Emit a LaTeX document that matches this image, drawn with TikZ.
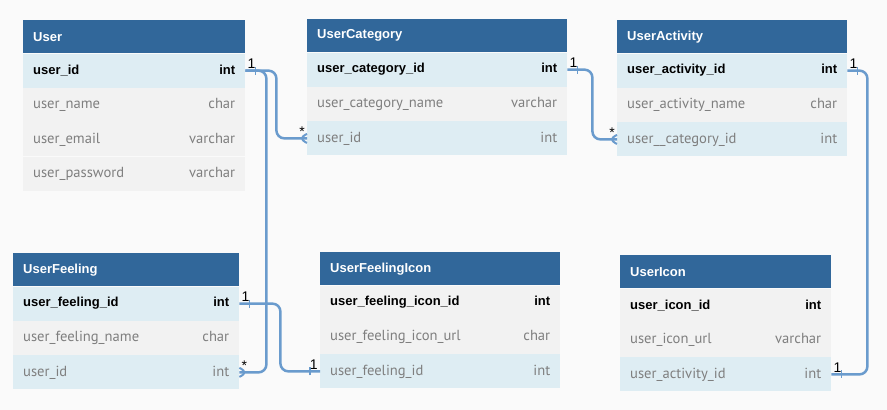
\documentclass[tikz,border=0pt]{standalone}
\usepackage{fontspec}
\setmainfont{PT Sans}
\newfontfamily\keyfont{Liberation Sans}
\usetikzlibrary{positioning, calc, decorations.markings}
\definecolor{hdblue}{HTML}{31679A}
\definecolor{rowblue}{HTML}{DEEDF3}
\definecolor{rowgray}{HTML}{F2F2F2}
\definecolor{pagebg}{HTML}{FAFAFA}
\definecolor{linkblue}{HTML}{6A9BCD}
\definecolor{typegray}{HTML}{7F7F7F}

\begin{document}
\begin{tikzpicture}[
    x=1pt, y=-1pt,
    node distance=0pt,
    thead/.style={
        rectangle, fill=hdblue, text=white, anchor=north west,
        minimum height=33pt, inner xsep=10pt, inner ysep=0pt,
        font=\keyfont\bfseries\fontsize{13}{15}\selectfont
    },
    pkrow/.style={
        rectangle, fill=rowblue, text=black,
        minimum height=34pt, inner xsep=10pt, inner ysep=0pt,
        font=\keyfont\bfseries\fontsize{13}{15}\selectfont
    },
    pkgray/.style={pkrow, fill=rowgray},
    row/.style={
        rectangle, fill=rowgray, text=typegray,
        minimum height=34pt, inner xsep=10pt, inner ysep=0pt,
        font=\fontsize{14.6}{16}\selectfont
    },
    fkrow/.style={row, fill=rowblue},
    link/.style={draw=linkblue, line width=2.5pt, rounded corners=8pt},
    lbl/.style={font=\keyfont\fontsize{14}{16}\selectfont, text=black, inner sep=1pt},
    tick/.style={draw=linkblue, line width=1.5pt},
    from one/.style={postaction={decorate, decoration={markings,
        mark=at position 10pt with {\draw[tick] (0pt,-4pt) -- (0pt,4pt);}}}},
    to one/.style={postaction={decorate, decoration={markings,
        mark=at position -10pt with {\draw[tick] (0pt,-4pt) -- (0pt,4pt);}}}},
    to many/.style={postaction={decorate, decoration={markings,
        mark=at position -9pt with {\draw[draw=linkblue, line width=2pt]
            (9pt,4.5pt) -- (0pt,0pt) -- (9pt,-4.5pt);}}}}
]
    \fill[pagebg] (0,0) rectangle (887,410);
    \useasboundingbox (0,0) rectangle (887,410);

    % User
    \begin{scope}[nodes={text width=202pt}]
    \node[thead] (user) at (23,20) {User};
    \node[pkrow, below=of user] (user-id) {user\_id\hfill int};
    \node[row, below=of user-id] (user-name) {user\_name\hfill char};
    \node[row, below=of user-name] (user-email) {user\_email\hfill varchar};
    \node[row, below=of user-email] (user-pass) {user\_password\hfill varchar};
    \end{scope}

    % UserCategory
    \begin{scope}[nodes={text width=240pt}]
    \node[thead] (cat) at (307,19) {UserCategory};
    \node[pkrow, below=of cat] (cat-cid) {user\_category\_id\hfill int};
    \node[row, below=of cat-cid] (cat-name) {user\_category\_name\hfill varchar};
    \node[fkrow, below=of cat-name] (cat-uid) {user\_id\hfill int};
    \end{scope}

    % UserActivity
    \begin{scope}[nodes={text width=210pt}]
    \node[thead] (act) at (617,20) {UserActivity};
    \node[pkrow, below=of act] (act-aid) {user\_activity\_id\hfill int};
    \node[row, below=of act-aid] (act-name) {user\_activity\_name\hfill char};
    \node[fkrow, below=of act-name] (act-cid) {user\_\_category\_id\hfill int};
    \end{scope}

    % UserFeeling
    \begin{scope}[nodes={text width=206pt}]
    \node[thead] (feel) at (13,253) {UserFeeling};
    \node[pkrow, below=of feel] (feel-fid) {user\_feeling\_id\hfill int};
    \node[row, below=of feel-fid] (feel-name) {user\_feeling\_name\hfill char};
    \node[fkrow, below=of feel-name] (feel-uid) {user\_id\hfill int};
    \end{scope}

    % UserFeelingIcon
    \begin{scope}[nodes={text width=220pt}]
    \node[thead] (ficon) at (320,252) {UserFeelingIcon};
    \node[pkgray, below=of ficon] (ficon-iid) {user\_feeling\_icon\_id\hfill int};
    \node[row, below=of ficon-iid] (ficon-url) {user\_feeling\_icon\_url\hfill char};
    \node[fkrow, below=of ficon-url] (ficon-fid) {user\_feeling\_id\hfill int};
    \end{scope}

    % UserIcon
    \begin{scope}[nodes={text width=191pt}]
    \node[thead] (icon) at (620,255) {UserIcon};
    \node[pkgray, below=of icon] (icon-iid) {user\_icon\_id\hfill int};
    \node[row, below=of icon-iid] (icon-url) {user\_icon\_url\hfill varchar};
    \node[fkrow, below=of icon-url] (icon-aid) {user\_activity\_id\hfill int};
    \end{scope}

    % relations
    \draw[link, from one, to many] (user-id.east) node[lbl, above right]{1}
        -- ++(31,0) |- (cat-uid.west) node[lbl, above left]{*};
    \draw[link, to many] (user-id.east) -- ++(21,0) |- (feel-uid.east)
        node[lbl, above right]{*};
    \draw[link, from one, to many] (cat-cid.east) node[lbl, above right]{1}
        -- ++(25,0) |- (act-cid.west) node[lbl, above left]{*};
    \draw[link, from one, to one] (act-aid.east) node[lbl, above right]{1}
        -- ++(20,0) |- (icon-aid.east) node[lbl, above right]{1};
    \draw[link, from one, to one] (feel-fid.east) node[lbl, above right]{1}
        -- ++(41,0) |- (ficon-fid.west) node[lbl, above left]{1};
\end{tikzpicture}
\end{document}
